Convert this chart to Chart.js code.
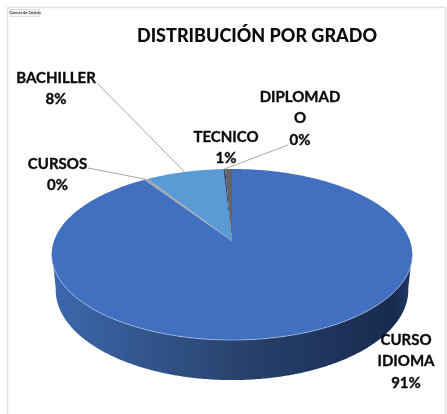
<!DOCTYPE html>
<html><head><meta charset="utf-8">
<style>html,body{margin:0;padding:0;background:#fff}canvas{display:block}</style>
<script src="https://cdn.jsdelivr.net/npm/chart.js@4"></script>
</head><body>
<canvas id="c" width="447" height="414"></canvas>
<script>
const categories = ['CURSO IDIOMA', 'CURSOS', 'BACHILLER', 'DIPLOMADO', 'TECNICO'];
const values = [90.6, 0.4, 8.1, 0.2, 0.7];
const sliceColors = ['#4270C0', '#A5A5A5', '#5B9BD5', '#264478', '#636363'];
const titleText = 'DISTRIBUCIÓN POR GRADO';
const filterButton = 'Cuenta de Cedula';

const FONT = 'Lato, Carlito, Calibri, sans-serif';
const view = {apexY: 241, flat: 0.4685, k: 0.158, depthCy: 290, depthScaleX: 0.978, depthScaleY: 1.053, topCy: 254.5};
// text placement for each slice label: centre x, first line y, wrapped lines, leader
const labelLayout = [
  {x: 406, y: 340, lines: ['CURSO', 'IDIOMA']},
  {x: 57.5, y: 164, lines: ['CURSOS'], leader: [88, 168]},
  {x: 56, y: 78, lines: ['BACHILLER'], leader: [97, 83]},
  {x: 300, y: 97, lines: ['DIPLOMAD', 'O'], leader: [288, 145]},
  {x: 226, y: 137, lines: ['TECNICO']}
];

function project(arc, angle) {
  const u = Math.cos(angle), v = Math.sin(angle);
  const w = 1 / (1 - view.k * v);
  return {x: arc.x + arc.outerRadius * u * w, y: view.apexY + arc.outerRadius * view.flat * v * w};
}
function lower(p, arc) {
  return {x: arc.x + (p.x - arc.x) * view.depthScaleX, y: view.depthCy + (p.y - view.topCy) * view.depthScaleY};
}
function rimPath(ctx, arc, from, to, map) {
  const n = Math.max(2, Math.ceil(Math.abs(to - from) / 0.01));
  for (let i = 0; i <= n; i++) {
    let p = project(arc, from + (to - from) * i / n);
    if (map) p = map(p, arc);
    ctx.lineTo(p.x, p.y);
  }
}

const pie3d = {
  id: 'pie3d',
  afterLayout(chart) {
    chart.titleBlock.left += 50;
  },
  beforeDraw(chart) {
    const ctx = chart.ctx;
    ctx.save();
    ctx.fillStyle = '#fff';
    ctx.fillRect(0, 0, 447, 414);
    ctx.strokeStyle = '#E2E2E2';
    ctx.lineWidth = 1.5;
    ctx.beginPath();
    ctx.moveTo(7.5, 414); ctx.lineTo(7.5, 7.5); ctx.lineTo(445.5, 7.5); ctx.lineTo(445.5, 414);
    ctx.stroke();
    ctx.fillStyle = '#F2F2F2';
    ctx.strokeStyle = '#D0D0D0';
    ctx.lineWidth = 0.6;
    ctx.fillRect(10.5, 9.5, 29, 7);
    ctx.strokeRect(10.5, 9.5, 29, 7);
    ctx.fillStyle = '#333';
    ctx.font = 'bold 4px ' + FONT;
    ctx.textAlign = 'center';
    ctx.textBaseline = 'middle';
    ctx.fillText(filterButton, 25, 13);
    ctx.restore();
  },
  beforeDatasetsDraw(chart) {
    const ctx = chart.ctx;
    const arcs = chart.getDatasetMeta(0).data;
    ctx.save();
    const big = arcs[0];
    const side = ctx.createLinearGradient(52, 0, 412, 0);
    side.addColorStop(0, '#3D68AE');
    side.addColorStop(0.5, '#29446F');
    side.addColorStop(0.95, '#182A4E');
    side.addColorStop(1, '#23396A');
    // side wall of the disc, front half of the rim
    ctx.beginPath();
    const a0 = Math.asin(view.k) - 0.02, a1 = Math.PI - a0;
    rimPath(ctx, big, a0, a1);
    rimPath(ctx, big, a1, a0, lower);
    ctx.closePath();
    ctx.fillStyle = side;
    ctx.fill();
    // top faces
    arcs.forEach((arc, i) => {
      ctx.beginPath();
      ctx.moveTo(arc.x, view.apexY);
      rimPath(ctx, arc, arc.startAngle, arc.endAngle);
      ctx.closePath();
      ctx.fillStyle = sliceColors[i];
      ctx.fill();
    });
    // rim highlight
    ctx.beginPath();
    rimPath(ctx, big, a0 + 0.05, a1 - 0.05);
    ctx.strokeStyle = 'rgba(200,215,240,0.55)';
    ctx.lineWidth = 1;
    ctx.stroke();
    // leaders and labels
    const total = values.reduce((a, b) => a + b, 0);
    ctx.textAlign = 'center';
    ctx.textBaseline = 'middle';
    ctx.font = 'bold 15px ' + FONT;
    ctx.lineJoin = 'round';
    arcs.forEach((arc, i) => {
      const l = labelLayout[i];
      if (l.leader) {
        const p = project(arc, (arc.startAngle + arc.endAngle) / 2);
        ctx.beginPath();
        ctx.moveTo(l.leader[0], l.leader[1]);
        ctx.lineTo(p.x, p.y);
        ctx.strokeStyle = '#A6A6A6';
        ctx.lineWidth = 1;
        ctx.stroke();
      }
      ctx.fillStyle = '#0B0B0B';
      ctx.strokeStyle = '#0B0B0B';
      ctx.lineWidth = 0.35;
      const lines = l.lines.concat(Math.round(values[i] / total * 100) + '%');
      lines.forEach((t, j) => {
        ctx.fillText(t, l.x, l.y + j * 21.5);
        ctx.strokeText(t, l.x, l.y + j * 21.5);
      });
    });
    ctx.restore();
    return false;
  }
};

new Chart(document.getElementById('c'), {
  type: 'pie',
  data: {labels: categories, datasets: [{data: values, backgroundColor: sliceColors, borderWidth: 0}]},
  options: {
    responsive: false,
    animation: false,
    rotation: 0,
    layout: {padding: {left: 54, right: 37, top: 0, bottom: 0}},
    plugins: {
      legend: {display: false},
      tooltip: {enabled: false},
      title: {display: true, text: titleText, color: '#0B0B0B', align: 'center',
        font: {family: FONT, size: 18, weight: 900}, padding: {top: 25, bottom: 0}}
    }
  },
  plugins: [pie3d]
});
</script>
</body></html>
